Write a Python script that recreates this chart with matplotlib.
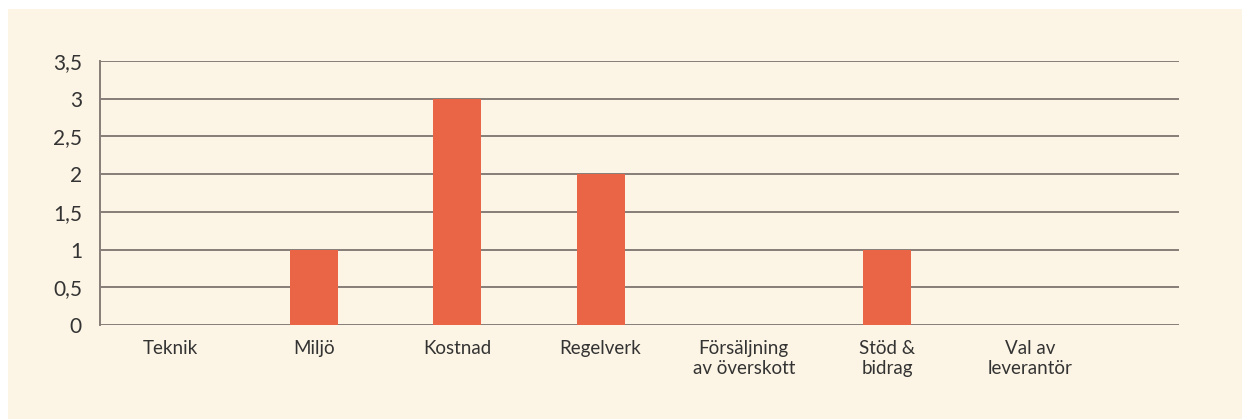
import numpy as np
import matplotlib.pyplot as plt
from matplotlib.patches import Rectangle

categories = ['Teknik', 'Miljö', 'Kostnad', 'Regelverk', 'Försäljning\nav överskott', 'Stöd &\nbidrag', 'Val av\nleverantör']
values = [0, 1, 3, 2, 0, 1, 0]
yticks = [0, 0.5, 1, 1.5, 2, 2.5, 3, 3.5]
ytick_labels = ['0', '0,5', '1', '1,5', '2', '2,5', '3', '3,5']

plt.rcParams['font.family'] = ['Lato', 'DejaVu Sans']

W, H = 1242, 419
fig = plt.figure(figsize=(W / 100, H / 100), dpi=100, facecolor='white')
# cream panel behind the axes
fig.patches.append(Rectangle((8 / W, 0), 1, 1 - 9 / H, transform=fig.transFigure,
                             facecolor='#fcf4e4', edgecolor='none', zorder=-10))

ax = fig.add_axes([100 / W, (H - 325) / H, (1179 - 100) / W, (325 - 61) / H])
ax.set_facecolor('none')

x = np.arange(len(categories))
ax.bar(x, values, width=0.335, color='#e96546', zorder=3)

ax.set_ylim(0, 3.5)
ax.set_xlim(-0.494, 7.038)
ax.set_yticks(yticks)
ax.set_yticklabels(ytick_labels)
ax.set_xticks(x)
ax.set_xticklabels(categories, linespacing=1.2)

ax.grid(axis='y', color='#857d77', linewidth=1.4, zorder=1)
for s in ['top', 'right', 'bottom']:
    ax.spines[s].set_visible(False)
ax.spines['left'].set_color('#857d77')
ax.spines['left'].set_linewidth(1.4)

ax.tick_params(axis='y', length=0, pad=13, labelsize=15, labelcolor='#333333')
ax.tick_params(axis='x', length=0, pad=11, labelsize=13.5, labelcolor='#333333')

fig.savefig('out.png', dpi=100, facecolor='white')
